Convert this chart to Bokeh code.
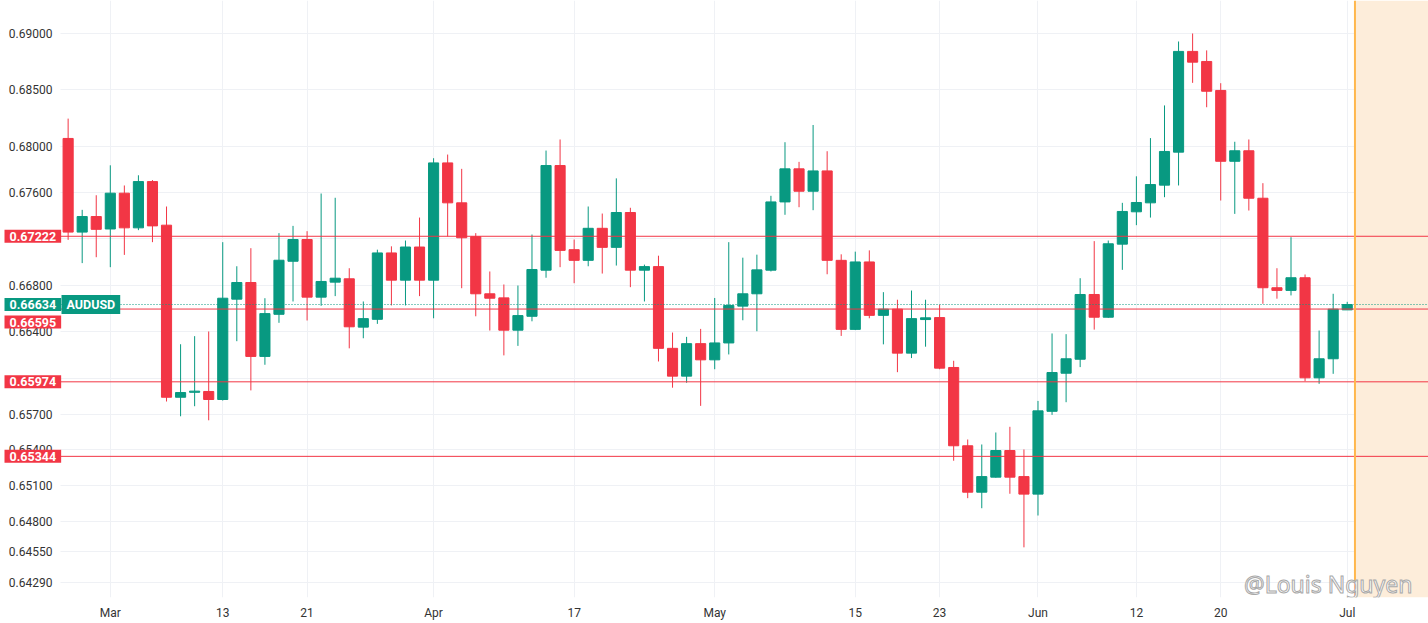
import numpy as np
import pandas as pd
from bokeh.plotting import figure
from bokeh.models import (Range1d, FixedTicker, PrintfTickFormatter, Span,
                          BoxAnnotation, Label, ColumnDataSource)
from bokeh.embed import file_html
from bokeh.resources import INLINE

# ---------------- data (AUDUSD daily) ----------------
dates = pd.bdate_range("2023-02-24", "2023-07-03")

opens = [0.68074, 0.67258, 0.67393, 0.67285, 0.67596, 0.67295, 0.67697, 0.67318,
         0.65843, 0.65885, 0.65892, 0.65824, 0.66680, 0.66823, 0.66190, 0.66550,
         0.67006, 0.67194, 0.66697, 0.66826, 0.66855, 0.66440, 0.66507, 0.67078,
         0.66843, 0.67129, 0.66843, 0.67860, 0.67512, 0.67218, 0.66726, 0.66691,
         0.66414, 0.66533, 0.66929, 0.67837, 0.67106, 0.67014, 0.67291, 0.67126,
         0.67428, 0.66929, 0.66960, 0.66259, 0.66022, 0.66299, 0.66161, 0.66305,
         0.66620, 0.66726, 0.66929, 0.67520, 0.67808, 0.67613, 0.67790, 0.67014,
         0.66421, 0.67000, 0.66541, 0.66594, 0.66218, 0.66505, 0.66522, 0.66096,
         0.65433, 0.65043, 0.65169, 0.65393, 0.65174, 0.65027, 0.65724, 0.66047,
         0.66166, 0.66720, 0.66525, 0.67154, 0.67434, 0.67512, 0.67666, 0.67954,
         0.68841, 0.68752, 0.68496, 0.67874, 0.67966, 0.67552, 0.66778, 0.66755,
         0.66864, 0.66008, 0.66170, 0.66588]
highs = [0.68248, 0.67451, 0.67578, 0.67839, 0.67663, 0.67752, 0.67710, 0.67480,
         0.66294, 0.66363, 0.66403, 0.67171, 0.66963, 0.67119, 0.66688, 0.67249,
         0.67312, 0.67266, 0.67593, 0.67556, 0.66946, 0.66660, 0.67106, 0.67135,
         0.67185, 0.67384, 0.67901, 0.67933, 0.67808, 0.67249, 0.66918, 0.66806,
         0.66797, 0.67237, 0.67968, 0.68065, 0.67194, 0.67480, 0.67419, 0.67725,
         0.67469, 0.66977, 0.67054, 0.66394, 0.66357, 0.66425, 0.66690, 0.67171,
         0.67037, 0.67063, 0.67573, 0.68041, 0.67869, 0.68192, 0.67962, 0.67066,
         0.67089, 0.67100, 0.66740, 0.66675, 0.66754, 0.66675, 0.66632, 0.66153,
         0.65486, 0.65444, 0.65545, 0.65593, 0.65402, 0.65812, 0.66386, 0.66380,
         0.66860, 0.67180, 0.67185, 0.67512, 0.67743, 0.68077, 0.68364, 0.68929,
         0.69000, 0.68850, 0.68560, 0.68045, 0.68065, 0.67683, 0.66946, 0.67214,
         0.66892, 0.66411, 0.66726, 0.66657]
lows = [0.67191, 0.66990, 0.67041, 0.66955, 0.67061, 0.67275, 0.67171, 0.65807,
        0.65682, 0.65767, 0.65648, 0.65815, 0.66320, 0.65901, 0.66119, 0.66477,
        0.66660, 0.66497, 0.66623, 0.66706, 0.66259, 0.66345, 0.66468, 0.66626,
        0.66626, 0.66706, 0.66516, 0.67220, 0.66774, 0.66533, 0.66411, 0.66199,
        0.66280, 0.66490, 0.66864, 0.66955, 0.66817, 0.66963, 0.66900, 0.66969,
        0.66783, 0.66660, 0.66147, 0.65924, 0.65966, 0.65770, 0.66081, 0.66207,
        0.66499, 0.66405, 0.66918, 0.67408, 0.67474, 0.67448, 0.66894, 0.66365,
        0.66415, 0.66516, 0.66293, 0.66056, 0.66176, 0.66273, 0.66081, 0.65307,
        0.64993, 0.64909, 0.65165, 0.65030, 0.64583, 0.64848, 0.65694, 0.65801,
        0.66099, 0.66419, 0.66520, 0.66932, 0.67318, 0.67384, 0.67561, 0.67663,
        0.68563, 0.68348, 0.67532, 0.67416, 0.67445, 0.66640, 0.66684, 0.66712,
        0.65979, 0.65957, 0.66042, 0.66588]
closes = [0.67258, 0.67393, 0.67282, 0.67596, 0.67295, 0.67697, 0.67312, 0.65843,
          0.65883, 0.65895, 0.65824, 0.66688, 0.66823, 0.66190, 0.66556, 0.67015,
          0.67194, 0.66697, 0.66832, 0.66860, 0.66443, 0.66513, 0.67078, 0.66843,
          0.67129, 0.66843, 0.67860, 0.67512, 0.67209, 0.66726, 0.66688, 0.66414,
          0.66539, 0.66935, 0.67837, 0.67100, 0.67014, 0.67291, 0.67126, 0.67428,
          0.66929, 0.66960, 0.66259, 0.66022, 0.66299, 0.66161, 0.66305, 0.66626,
          0.66726, 0.66932, 0.67520, 0.67808, 0.67613, 0.67790, 0.67014, 0.66421,
          0.67000, 0.66541, 0.66594, 0.66218, 0.66513, 0.66520, 0.66090, 0.65433,
          0.65043, 0.65174, 0.65393, 0.65169, 0.65027, 0.65728, 0.66053, 0.66170,
          0.66720, 0.66525, 0.67157, 0.67437, 0.67515, 0.67671, 0.67960, 0.68841,
          0.68746, 0.68489, 0.67874, 0.67966, 0.67552, 0.66778, 0.66755, 0.66864,
          0.66008, 0.66170, 0.66594, 0.66634]

level_prices = [0.67222, 0.66595, 0.65974, 0.65344]
level_texts = ["0.67222", "0.66595", "0.65974", "0.65344"]
last_price = 0.66634
last_text = "0.66634"
symbol = "AUDUSD"

x_tick_dates = ["2023-03-01", "2023-03-13", "2023-03-21", "2023-04-03",
                "2023-04-17", "2023-05-01", "2023-05-15", "2023-05-23",
                "2023-06-01", "2023-06-12", "2023-06-20", "2023-07-03"]
x_tick_labels = ["Mar", "13", "21", "Apr", "17", "May", "15", "23",
                 "Jun", "12", "20", "Jul"]
price_ticks = [0.69000, 0.68500, 0.68000, 0.67600, 0.67200, 0.66800, 0.66400,
               0.66000, 0.65700, 0.65400, 0.65100, 0.64800, 0.64550, 0.64290]
hidden_price_ticks = [0.67200, 0.66000]   # covered by the level labels
watermark = "@Louis Nguyen"

# ---------------- styling ----------------
UP = "#089981"
DOWN = "#F23645"
GRID = "#eff1f5"
TXT = "#333333"
BAR_PX = 14.056          # pixels per trading day

xi = np.arange(len(dates))
o = np.array(opens); c = np.array(closes)
src = ColumnDataSource(dict(
    x=xi, open=o, close=c, high=highs, low=lows,
    top=np.maximum(o, c), bottom=np.minimum(o, c),
    color=[UP if cc >= oo else DOWN for oo, cc in zip(o, c)],
))

date_index = {d.strftime("%Y-%m-%d"): i for i, d in enumerate(dates)}
tick_idx = [date_index[d] for d in x_tick_dates]

FRAME_W = 1428
X_START = date_index["2023-03-01"] - 109.8 / BAR_PX
X_END = X_START + FRAME_W / BAR_PX
AXIS_X = X_START + 60 / BAR_PX      # price-scale edge

p = figure(frame_width=FRAME_W, frame_height=597,
           x_range=Range1d(X_START, X_END),
           y_range=Range1d(0.641672, 0.692938), y_axis_type="log",
           output_backend="svg", toolbar_location=None,
           min_border_left=0, min_border_right=0, min_border_top=0,
           min_border_bottom=0, outline_line_color=None,
           background_fill_color="white", border_fill_color="white")

# axes
p.xaxis.ticker = FixedTicker(ticks=tick_idx)
p.xaxis.major_label_overrides = {int(i): t for i, t in zip(tick_idx, x_tick_labels)}
p.yaxis.ticker = FixedTicker(ticks=price_ticks)
p.yaxis.formatter = PrintfTickFormatter(format="%.5f")
p.yaxis.major_label_overrides = {float(t): "" for t in hidden_price_ticks}
p.yaxis.fixed_location = AXIS_X
for ax in (p.xaxis[0], p.yaxis[0]):
    ax.axis_line_color = None
    ax.major_tick_line_color = None
    ax.minor_tick_line_color = None
    ax.major_tick_out = 0
    ax.major_tick_in = 0
    ax.minor_tick_out = 0
    ax.minor_tick_in = 0
    ax.major_label_text_font = "Roboto"
    ax.major_label_text_font_size = "12px"
    ax.major_label_text_color = TXT
p.xaxis.major_label_standoff = 8
p.yaxis.major_label_standoff = 8

p.xgrid.ticker = FixedTicker(ticks=tick_idx)
p.ygrid.ticker = FixedTicker(ticks=price_ticks)
p.xgrid.grid_line_color = GRID
p.ygrid.grid_line_color = GRID

# white price-scale area (hides grid there) and session shading on the right
p.add_layout(BoxAnnotation(right=AXIS_X, fill_color="white", fill_alpha=1.0,
                           line_color=None, level="underlay"))
p.add_layout(BoxAnnotation(left=xi[-1] + 0.55, fill_color="#FDEDDA",
                           fill_alpha=1.0, line_color=None, level="underlay"))

# candles
p.segment(x0="x", y0="low", x1="x", y1="high", line_color="color",
          line_width=1, source=src)
p.vbar(x="x", width=0.72, top="top", bottom="bottom", fill_color="color",
       line_color="color", line_width=1, source=src)

# level lines and last-price line (start at the price scale edge)
n = len(level_prices)
p.segment(x0=[AXIS_X] * n, x1=[X_END] * n, y0=level_prices, y1=level_prices,
          line_color=DOWN, line_width=1)
p.segment(x0=[AXIS_X], x1=[X_END], y0=[last_price], y1=[last_price],
          line_color=UP, line_width=1, line_dash="1 2")
p.add_layout(Span(location=xi[-1] + 0.55, dimension="height",
                  line_color="#FFB74D", line_width=2))


def box_label(y, text, color, x_off, y_off=0):
    kw = dict(x=AXIS_X, y=y, text=text, x_offset=x_off, y_offset=y_off,
              text_color="white", text_font="Roboto",
              text_font_size="12.5px", text_font_style="bold",
              text_align="left", text_baseline="middle",
              background_fill_color=color, background_fill_alpha=1.0)
    try:
        lab = Label(padding=dict(x=5, y=2), **kw)
    except Exception:
        lab = Label(**kw)
        try:
            lab.padding = 2
        except Exception:
            pass
    p.add_layout(lab)


for lv, t in zip(level_prices, level_texts):
    shift = -13 if t == "0.66595" else 0
    box_label(lv, t, DOWN, -56, shift)
box_label(last_price, last_text, UP, -56)
box_label(last_price, symbol, UP, 1)

# watermark
wm_kw = dict(x=X_END, y=0.641672, text=watermark, x_offset=-16, y_offset=14,
             text_align="right", text_baseline="middle",
             text_font="Noto Sans", text_font_size="23px")
props = Label.properties()
if "text_outline_color" in props:
    wm = Label(text_color="white", text_outline_color="#a8a8a8", **wm_kw)
elif "outline_color" in props:
    wm = Label(text_color="white", outline_color="#a8a8a8", **wm_kw)
else:
    wm = Label(text_color="#d4d4d4", **wm_kw)
p.add_layout(wm)

open("out.html", "w").write(file_html(p, INLINE))
